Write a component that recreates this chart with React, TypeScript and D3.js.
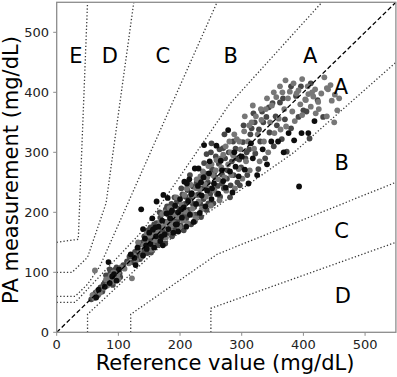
import React from "react";
import * as d3 from "d3";

const W = 397;
const H = 377;
const X_TICKS = [0, 100, 200, 300, 400, 500];
const Y_TICKS = [0, 100, 200, 300, 400, 500];
const X_LABEL = "Reference value (mg/dL)";
const Y_LABEL = "PA measurement (mg/dL)";

// Parkes error grid (type 1) zone boundaries
const upperAB: [number, number][] = [[0, 50], [30, 50], [140, 170], [280, 380], [430, 550]];
const upperBC: [number, number][] = [[0, 60], [30, 60], [50, 80], [70, 110], [260, 550]];
const upperCD: [number, number][] = [[0, 100], [25, 100], [50, 125], [80, 215], [125, 550]];
const upperDE: [number, number][] = [[0, 150], [35, 155], [50, 550]];
const lowerAB: [number, number][] = [[50, 0], [50, 30], [170, 145], [385, 300], [550, 450]];
const lowerBC: [number, number][] = [[120, 0], [120, 30], [260, 130], [550, 250]];
const lowerCD: [number, number][] = [[250, 0], [250, 40], [550, 150]];
const ZONE_LINES = [upperAB, upperBC, upperCD, upperDE, lowerAB, lowerBC, lowerCD];

const ZONE_LABEL_TEXT = ["E", "D", "C", "B", "A", "A", "B", "C", "D"];
const ZONE_LABEL_X = [31, 86, 172, 282, 411, 461, 462, 462, 464];
const ZONE_LABEL_Y = [462, 462, 462, 462, 462, 410, 283, 170, 62];

const blackPts: [number, number][] = [
  [64, 58], [68, 71], [84, 117], [86, 82], [93, 97], [97, 86], [101, 105], [126, 124], [131, 141], [137, 205],
  [140, 128], [143, 156], [146, 139], [150, 166], [152, 147], [156, 171], [158, 141], [161, 160], [162, 218], [165, 176],
  [168, 152], [171, 186], [173, 229], [175, 163], [178, 198], [181, 172], [184, 190], [187, 203], [189, 166], [192, 211],
  [195, 180], [197, 168], [200, 222], [203, 191], [206, 208], [207, 251], [210, 176], [211, 248], [213, 219], [216, 196],
  [219, 232], [222, 184], [224, 273], [226, 214], [229, 244], [230, 273], [232, 199], [235, 228], [238, 258], [239, 312],
  [241, 210], [244, 236], [247, 265], [251, 222], [255, 248], [259, 311], [262, 231], [266, 286], [270, 252], [274, 241],
  [278, 337], [281, 268], [285, 233], [290, 276], [295, 260], [300, 293], [305, 271], [311, 248], [318, 290], [325, 262],
  [334, 305], [341, 280], [348, 318], [359, 318], [368, 300], [376, 332], [385, 320], [393, 243], [397, 332], [408, 332],
  [418, 352], [140, 172], [155, 190], [180, 224], [197, 200], [215, 255], [248, 285], [120, 130], [128, 112], [172, 145],
  [145, 145], [160, 175], [170, 160], [185, 200], [193, 180], [202, 205], [218, 230], [234, 250], [252, 240], [268, 270],
  [288, 300], [315, 315], [90, 93], [78, 76],
];

const darkPts: [number, number][] = [
  [56, 55], [59, 62], [63, 66], [67, 62], [71, 75], [74, 68], [78, 83], [81, 78], [83, 92], [87, 99],
  [89, 88], [91, 79], [94, 104], [96, 93], [99, 99], [103, 92], [108, 112], [114, 118], [118, 126], [123, 117],
  [127, 134], [130, 126], [133, 146], [136, 131], [139, 150], [142, 137], [145, 160], [147, 132], [149, 153], [152, 175],
  [154, 156], [157, 147], [159, 168], [162, 182], [164, 160], [166, 150], [168, 191], [170, 171], [173, 158], [176, 184],
  [177, 205], [179, 165], [182, 195], [184, 178], [186, 214], [188, 187], [190, 172], [193, 199], [195, 218], [196, 186],
  [199, 206], [201, 178], [204, 230], [205, 197], [208, 214], [210, 190], [212, 237], [214, 204], [217, 222], [218, 180],
  [221, 243], [223, 209], [225, 196], [228, 229], [231, 252], [233, 214], [236, 240], [238, 222], [240, 265], [243, 204],
  [245, 250], [243, 297], [249, 231], [251, 315], [252, 272], [254, 215], [257, 258], [258, 293], [261, 244], [263, 281],
  [265, 226], [268, 263], [270, 307], [271, 240], [273, 290], [276, 256], [279, 300], [282, 245], [284, 285], [287, 262],
  [290, 306], [293, 250], [296, 288], [299, 275], [302, 317], [306, 290], [309, 262], [312, 305], [316, 340], [319, 365],
  [322, 298], [327, 272], [330, 318], [335, 350], [338, 290], [340, 359], [345, 333], [350, 382], [352, 310], [357, 345],
  [362, 383], [365, 322], [370, 355], [373, 301], [380, 340], [388, 394], [392, 359], [400, 370], [410, 323], [423, 387],
  [432, 359], [405, 368],
  [135, 122], [142, 160], [148, 170], [153, 133], [158, 180], [163, 145], [167, 200], [172, 168], [176, 148], [179, 210],
  [183, 186], [187, 160], [191, 225], [194, 172], [198, 190], [202, 240], [206, 170], [209, 226], [213, 195], [216, 262],
  [220, 215], [224, 185], [227, 250], [231, 230], [234, 192], [239, 282], [242, 240], [246, 215], [250, 300], [255, 265],
  [260, 230], [264, 305], [268, 248], [272, 330], [277, 270], [281, 225], [286, 318], [291, 290], [297, 245], [303, 345],
  [308, 300], [314, 330], [321, 350], [328, 338], [333, 368], [344, 375], [355, 360], [367, 390], [380, 410], [396, 410],
  [412, 415], [80, 95], [86, 105], [92, 88], [97, 108], [102, 98], [76, 80], [72, 70], [60, 60],
];

const grayPts: [number, number][] = [
  [58, 62], [61, 57], [66, 69], [70, 66], [76, 74], [80, 88], [85, 86], [88, 95], [90, 84], [92, 100],
  [95, 91], [98, 95], [100, 88], [62, 103], [122, 90], [117, 115], [125, 128], [129, 120], [134, 137], [138, 126],
  [141, 145], [144, 152], [148, 144], [151, 161], [153, 138], [157, 164], [160, 154], [163, 169], [166, 178], [169, 162],
  [171, 197], [174, 176], [177, 158], [180, 183], [183, 207], [185, 169], [188, 196], [191, 182], [194, 225], [196, 193],
  [199, 176], [202, 213], [205, 186], [207, 229], [209, 201], [212, 182], [215, 218], [217, 246], [220, 206], [222, 228],
  [225, 190], [227, 255], [230, 218], [232, 238], [235, 205], [237, 268], [240, 247], [242, 226], [246, 277], [248, 240],
  [250, 211], [253, 262], [256, 236], [259, 287], [262, 255], [264, 220], [267, 275], [270, 296], [272, 258], [275, 236],
  [278, 280], [280, 318], [283, 262], [286, 295], [289, 240], [292, 322], [295, 272], [298, 305], [301, 256], [304, 335],
  [307, 285], [310, 318], [313, 270], [316, 350], [320, 306], [323, 360], [326, 330], [329, 285], [332, 354], [336, 318],
  [339, 372], [343, 300], [346, 350], [349, 378], [353, 332], [356, 392], [360, 356], [363, 338], [366, 400], [369, 372],
  [372, 343], [375, 390], [378, 401], [382, 368], [386, 352], [389, 398], [392, 403], [395, 380], [398, 362], [403, 388],
  [404, 387], [408, 397], [412, 376], [416, 393], [419, 405], [425, 372], [434, 425], [438, 407], [440, 405], [446, 386],
  [451, 396], [450, 350], [424, 384],
  [82, 78], [87, 92], [94, 96], [100, 101], [104, 108], [110, 106], [132, 150], [146, 165], [155, 145], [168, 185],
  [175, 200], [186, 178], [192, 210], [200, 200], [211, 240], [219, 196], [226, 240], [233, 260], [244, 258], [251, 280],
  [258, 270], [266, 290], [274, 310], [282, 300], [288, 330], [296, 318], [305, 360], [312, 345], [318, 378], [331, 372],
  [341, 390], [352, 400], [362, 410], [371, 420], [384, 415], [398, 422], [407, 410], [414, 400], [429, 398], [444, 412],
  [458, 390], [455, 370], [438, 360], [420, 365],
];

const SERIES = [
  { pts: darkPts, color: "#474747" },
  { pts: grayPts, color: "#777777" },
  { pts: blackPts, color: "#0d0d0d" },
];

export default function App() {
  const x = d3.scaleLinear().domain([0, 550]).range([56.7, 395.9]);
  const y = d3.scaleLinear().domain([0, 550]).range([332.3, 2.3]);
  const line = d3
    .line<[number, number]>()
    .x((d) => x(d[0]))
    .y((d) => y(d[1]));
  const font = "'DejaVu Sans', sans-serif";
  const frame = "#8c8c8c";
  return (
    <div style={{ position: "fixed", left: 0, top: 0 }}>
      <svg width={W} height={H} style={{ display: "block", background: "#fff" }}>
        <defs>
          <clipPath id="plot">
            <rect x={x(0)} y={y(550)} width={x(550) - x(0)} height={y(0) - y(550)} />
          </clipPath>
        </defs>
        <g clipPath="url(#plot)">
          {ZONE_LINES.map((l, i) => (
            <path key={i} d={line(l) || ""} fill="none" stroke="#3a3a3a" strokeWidth={1.3} strokeDasharray="1.3 2.1" />
          ))}
          {SERIES.map((s, si) =>
            s.pts.map((p, i) => <circle key={si + "-" + i} cx={x(p[0])} cy={y(p[1])} r={2.9} fill={s.color} />)
          )}
          <path
            d={line([[0, 0], [550, 550]]) || ""}
            fill="none"
            stroke="#000"
            strokeWidth={1.3}
            strokeDasharray="4.5 2.5"
          />
        </g>
        {ZONE_LABEL_TEXT.map((t, i) => (
          <text
            key={"z" + i}
            x={x(ZONE_LABEL_X[i])}
            y={y(ZONE_LABEL_Y[i]) + 7.6}
            textAnchor="middle"
            fontFamily={font}
            fontSize={21}
            fill="#000"
          >
            {t}
          </text>
        ))}
        <rect
          x={x(0)}
          y={y(550)}
          width={x(550) - x(0)}
          height={y(0) - y(550)}
          fill="none"
          stroke={frame}
          strokeWidth={1.3}
        />
        {X_TICKS.map((t) => (
          <g key={"xt" + t}>
            <line x1={x(t)} x2={x(t)} y1={y(0)} y2={y(0) + 3.5} stroke={frame} strokeWidth={1} />
            <text x={x(t)} y={348.5} textAnchor="middle" fontFamily={font} fontSize={13} fill="#222">
              {t}
            </text>
          </g>
        ))}
        {Y_TICKS.map((t) => (
          <g key={"yt" + t}>
            <line x1={x(0) - 3.5} x2={x(0)} y1={y(t)} y2={y(t)} stroke={frame} strokeWidth={1} />
            <text x={49} y={y(t) + 4.7} textAnchor="end" fontFamily={font} fontSize={13} fill="#222">
              {t}
            </text>
          </g>
        ))}
        <text x={225} y={370} textAnchor="middle" fontFamily={font} fontSize={21} fill="#000">
          {X_LABEL}
        </text>
        <text
          transform={`translate(17.5,${170}) rotate(-90)`}
          textAnchor="middle"
          fontFamily={font}
          fontSize={21}
          fill="#000"
        >
          {Y_LABEL}
        </text>
      </svg>
    </div>
  );
}
